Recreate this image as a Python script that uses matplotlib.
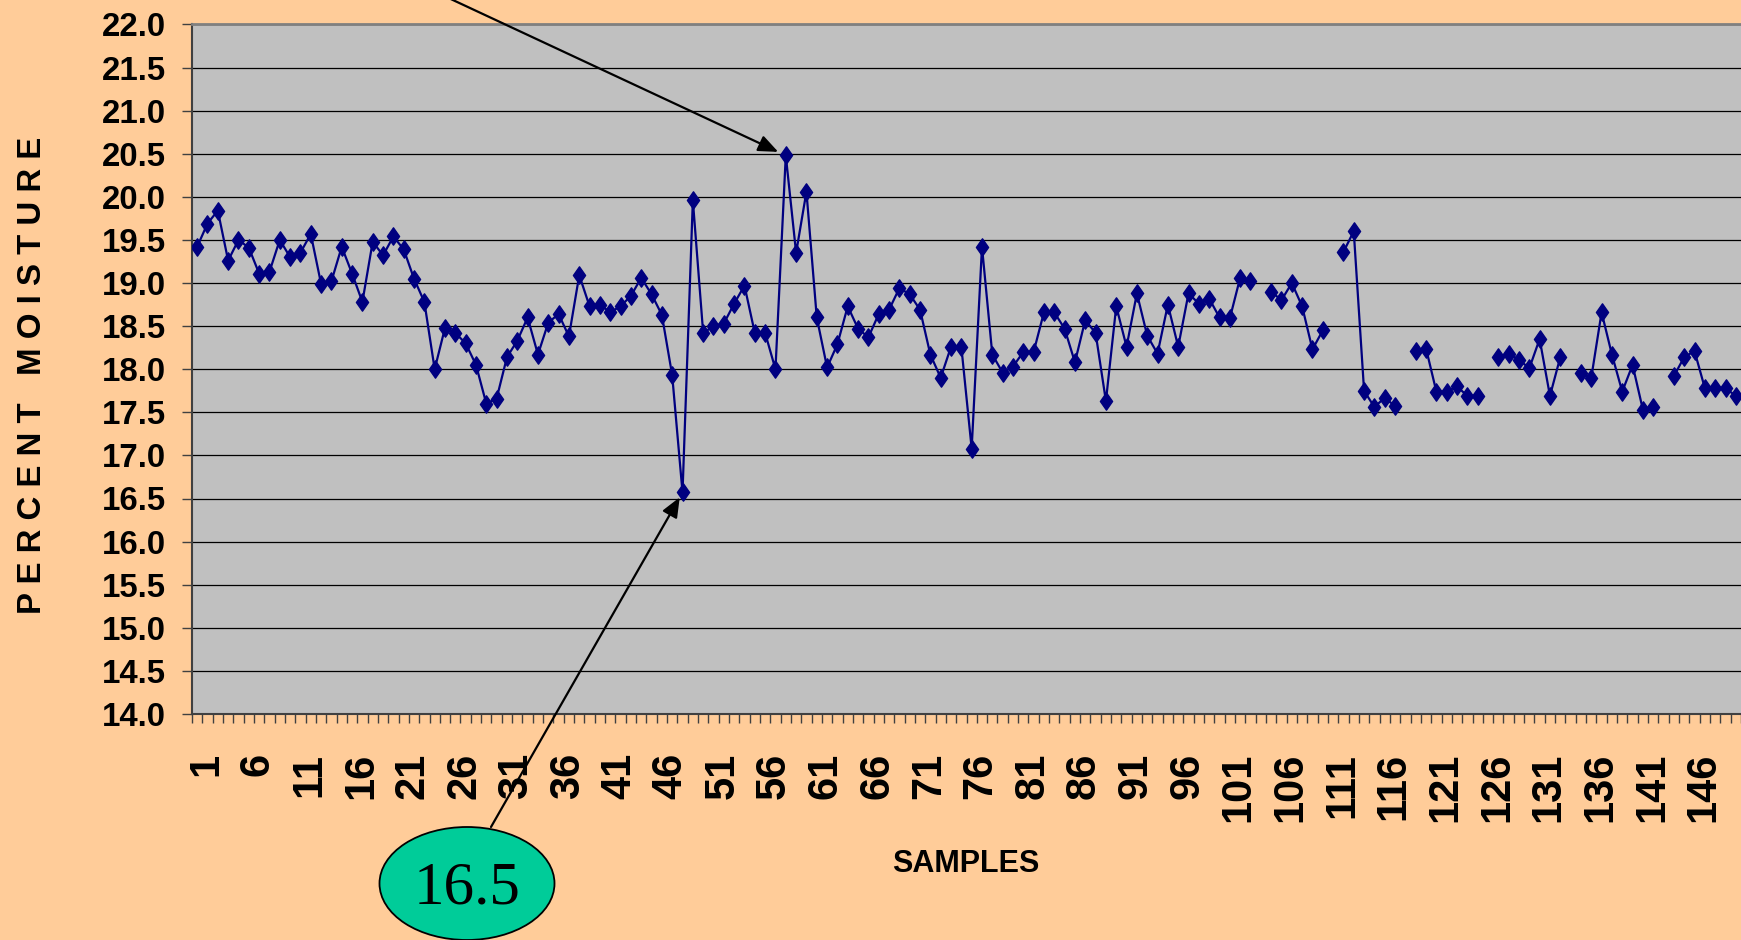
import os
import numpy as np
import matplotlib
matplotlib.use("Agg")
import matplotlib.pyplot as plt
from matplotlib import font_manager
from matplotlib.font_manager import FontProperties
from matplotlib.patches import Ellipse
from matplotlib.path import Path
from matplotlib.transforms import ScaledTranslation

# ---------------- data ----------------
samples = list(range(1, 151))
moisture = [
    19.42, 19.69, 19.84, 19.26, 19.50, 19.41, 19.11, 19.13, 19.50, 19.30,
    19.35, 19.57, 18.99, 19.02, 19.42, 19.11, 18.78, 19.48, 19.32, 19.54,
    19.39, 19.05, 18.78, 18.00, 18.48, 18.42, 18.30, 18.05, 17.60, 17.66,
    18.14, 18.33, 18.60, 18.17, 18.54, 18.64, 18.38, 19.09, 18.73, 18.75,
    18.66, 18.73, 18.85, 19.06, 18.87, 18.63, 17.93, 16.57, 19.96, 18.42,
    18.50, 18.53, 18.76, 18.97, 18.42, 18.42, 18.00, 20.48, 19.35, 20.06,
    18.60, 18.02, 18.29, 18.73, 18.47, 18.37, 18.64, 18.69, 18.94, 18.87,
    18.69, 18.17, 17.90, 18.26, 18.26, 17.08, 19.42, 18.17, 17.96, 18.03,
    18.20, 18.20, 18.66, 18.66, 18.47, 18.08, 18.57, 18.42, 17.63, 18.73,
    18.26, 18.88, 18.39, 18.18, 18.75, 18.26, 18.88, 18.76, 18.82, 18.60,
    18.59, 19.06, 19.02, np.nan, 18.90, 18.80, 19.00, 18.73, 18.23, 18.45,
    np.nan, 19.36, 19.60, 17.75, 17.56, 17.67, 17.57, np.nan, 18.21, 18.24,
    17.74, 17.74, 17.80, 17.69, 17.69, np.nan, 18.14, 18.18, 18.11, 18.01,
    18.35, 17.69, 18.14, np.nan, 17.96, 17.90, 18.66, 18.17, 17.74, 18.05,
    17.53, 17.56, np.nan, 17.92, 18.14, 18.21, 17.78, 17.78, 17.78, 17.69,
]
xtick_pos = list(range(1, 151, 5))
xtick_labels = [str(v) for v in xtick_pos]
ytick_vals = [14.0 + 0.5 * i for i in range(17)]
ytick_labels = [f"{v:.1f}" for v in ytick_vals]
low_callout = "16.5"
low_sample, low_value = 48, 16.57
high_sample, high_value = 58, 20.48

# ---------------- fonts ----------------
files = [f.fname for f in font_manager.fontManager.ttflist]
choices = [
    # file-name pattern, ytick size, ylabel size, xlabel size
    ("LiberationSansNarrow-Bold.", 29, 29, 27),
    ("NotoSans-ExtraCondensedBold.", 33, 34, 29),
    ("NotoSans-CondensedBold.", 27, 30, 25),
]
narrow_fp = None
for pat, s_tick, s_ylab, s_xlab in choices:
    hits = [f for f in files if os.path.basename(f).startswith(pat)]
    if hits:
        narrow_fp = FontProperties(fname=hits[0])
        break
if narrow_fp is None:
    narrow_fp = FontProperties(family="Liberation Sans", weight="bold")
    s_tick, s_ylab, s_xlab = 23.8, 23.8, 22


def nfp(size):
    fp = narrow_fp.copy()
    fp.set_size(size)
    return fp


wide = "Liberation Sans"
serif = "Liberation Serif"

W, H = 1741, 940
fig = plt.figure(figsize=(W / 100, H / 100), dpi=100, facecolor="#FFCC99")
ax = fig.add_axes([192 / W, 1 - 714 / H, (W - 192) / W, (714 - 24.4) / H])
ax.set_facecolor("#C0C0C0")

diamond = Path([(0, 1), (0.7, 0), (0, -1), (-0.7, 0), (0, 1)],
               [Path.MOVETO, Path.LINETO, Path.LINETO, Path.LINETO, Path.CLOSEPOLY])
ax.plot(samples, moisture, color="#000080", lw=1.6, marker=diamond, ms=12.5,
        mfc="#000080", mec="#000080", zorder=3)

ax.set_xlim(0.5, 150.5)
ax.set_ylim(14.0, 22.0)

ax.set_yticks(ytick_vals)
ax.set_yticklabels(ytick_labels, fontproperties=nfp(s_tick))
ax.tick_params(axis="y", direction="out", length=7.5, width=1, color="#404040", pad=11)
ax.yaxis.grid(True, color="black", lw=0.9)
ax.set_axisbelow(True)

ax.set_xticks(xtick_pos)
ax.set_xticklabels(xtick_labels, fontfamily=wide, fontweight="bold", fontsize=30,
                   rotation=90)
ax.set_xticks(np.arange(0.5, 151, 1.0), minor=True)
ax.tick_params(axis="x", which="major", length=0, pad=28)
ax.tick_params(axis="x", which="minor", direction="out", length=6.5, width=1, color="#404040")
off = ScaledTranslation(9 / 100, 0, fig.dpi_scale_trans)
for lbl in ax.get_xticklabels():
    lbl.set_transform(lbl.get_transform() + off)

for s in ("left", "bottom"):
    ax.spines[s].set_color("#404040")
    ax.spines[s].set_linewidth(1.5)
ax.spines["top"].set_color("#808080")
ax.spines["top"].set_linewidth(2)
ax.spines["right"].set_visible(False)

fig.text(33 / W, 1 - 375 / H, "P E R C E N T   M O I S T U R E", rotation=90,
         fontproperties=nfp(s_ylab), ha="center", va="center")
fig.text(966 / W, 1 - 864 / H, "SAMPLES", fontproperties=nfp(s_xlab),
         ha="center", va="center")

# callout ellipse
ell = Ellipse((467 / W, 1 - 883.5 / H), width=175 / W, height=113 / H,
              transform=fig.transFigure, facecolor="#00CC99", edgecolor="black",
              lw=1.3, zorder=5)
fig.add_artist(ell)
fig.text(467 / W, 1 - 904 / H, low_callout, fontfamily=serif, fontsize=44,
         ha="center", va="baseline", zorder=6)

arrow = dict(arrowstyle="-|>,head_length=0.6,head_width=0.25", color="black",
             lw=1.6, mutation_scale=20, shrinkA=0)
ax.annotate("", xy=(low_sample, low_value), xycoords="data",
            xytext=(491 / W, 1 - 827 / H), textcoords="figure fraction",
            arrowprops=dict(arrow, shrinkB=4), annotation_clip=False, zorder=10)
ax.annotate("", xy=(high_sample, high_value), xycoords="data",
            xytext=(388.6 / W, 1 + 30 / H), textcoords="figure fraction",
            arrowprops=dict(arrow, shrinkB=6), annotation_clip=False, zorder=10)

fig.savefig("out.png", dpi=100, facecolor=fig.get_facecolor())
